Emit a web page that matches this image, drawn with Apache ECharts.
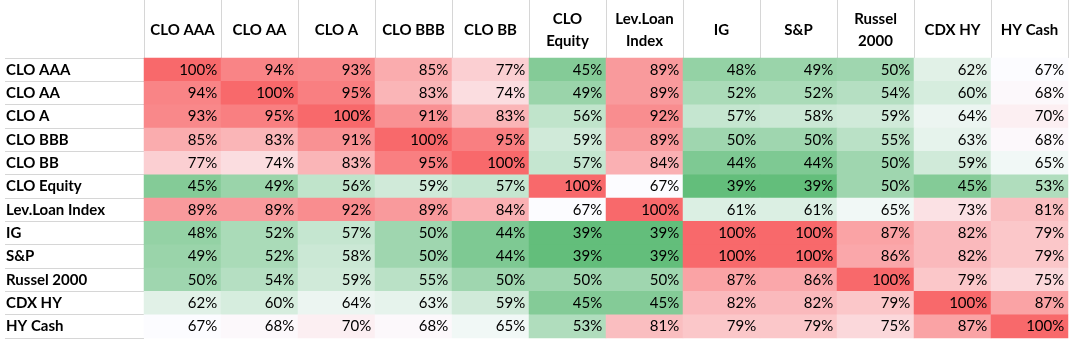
<!DOCTYPE html>
<html>
<head>
<meta charset="utf-8">
<script src="https://cdn.jsdelivr.net/npm/echarts@6/dist/echarts.min.js"></script>
<style>
html,body{margin:0;padding:0;background:#fff;}
#chart{width:1072px;height:339px;}
</style>
</head>
<body>
<div id="chart"></div>
<script>
const columns = ['CLO AAA','CLO AA','CLO A','CLO BBB','CLO BB','CLO\nEquity','Lev.Loan\nIndex','IG','S&P','Russel\n2000','CDX HY','HY Cash'];
const rows = ['CLO AAA','CLO AA','CLO A','CLO BBB','CLO BB','CLO Equity','Lev.Loan Index','IG','S&P','Russel 2000','CDX HY','HY Cash'];
const rowCLOAAA   = [100,94,93,85,77,45,89,48,49,50,62,67];
const rowCLOAA    = [94,100,95,83,74,49,89,52,52,54,60,68];
const rowCLOA     = [93,95,100,91,83,56,92,57,58,59,64,70];
const rowCLOBBB   = [85,83,91,100,95,59,89,50,50,55,63,68];
const rowCLOBB    = [77,74,83,95,100,57,84,44,44,50,59,65];
const rowCLOEq    = [45,49,56,59,57,100,67,39,39,50,45,53];
const rowLevLoan  = [89,89,92,89,84,67,100,61,61,65,73,81];
const rowIG       = [48,52,57,50,44,39,39,100,100,87,82,79];
const rowSP       = [49,52,58,50,44,39,39,100,100,86,82,79];
const rowRussel   = [50,54,59,55,50,50,50,87,86,100,79,75];
const rowCDXHY    = [62,60,64,63,59,45,45,82,82,79,100,87];
const rowHYCash   = [67,68,70,68,65,53,81,79,79,75,87,100];
const matrix = [rowCLOAAA,rowCLOAA,rowCLOA,rowCLOBBB,rowCLOBB,rowCLOEq,rowLevLoan,rowIG,rowSP,rowRussel,rowCDXHY,rowHYCash];

const data = [];
matrix.forEach((r, yi) => r.forEach((v, xi) => data.push([xi, yi, v])));

const LOW = [99,190,123], MID = [252,252,255], HIGH = [248,105,107];
const vMin = 39, vMid = 67, vMax = 100;
function lerp(a,b,t){return a.map((c,i)=>Math.round(c+(b[i]-c)*t));}
function colorFor(v){
  let c;
  if (v <= vMid) c = lerp(LOW, MID, Math.max(0,(v - vMin)/(vMid - vMin)));
  else c = lerp(MID, HIGH, Math.min(1,(v - vMid)/(vMax - vMid)));
  return 'rgb(' + c.join(',') + ')';
}

const FONT = 'Lato';
const chart = echarts.init(document.getElementById('chart'), null, {renderer:'canvas'});
chart.setOption({
  animation: false,
  backgroundColor: '#ffffff',
  grid: {left: 144, right: 4, top: 58, bottom: 1},
  xAxis: {
    type: 'category',
    position: 'top',
    data: columns,
    axisLine: {show: false},
    axisTick: {show: true, length: 58, lineStyle: {color: '#d6d6d6', width: 1}},
    axisLabel: {
      interval: 0, margin: 28, verticalAlign: 'middle',
      fontFamily: FONT, fontWeight: 'bold', fontSize: 15, color: '#000', lineHeight: 22
    },
    splitLine: {show: false}
  },
  yAxis: {
    type: 'category',
    inverse: true,
    data: rows,
    axisLine: {show: false},
    axisTick: {show: true, length: 139, lineStyle: {color: '#d6d6d6', width: 1}},
    axisLabel: {
      interval: 0, margin: 138, align: 'left',
      fontFamily: FONT, fontWeight: 'bold', fontSize: 15, color: '#000'
    },
    splitLine: {show: false}
  },
  series: [{
    type: 'heatmap',
    data: data,
    itemStyle: {color: p => colorFor(p.value[2])},
    label: {
      show: true, position: 'insideRight', distance: 4,
      formatter: p => p.value[2] + '%',
      fontFamily: FONT, fontSize: 15, color: '#000'
    },
    emphasis: {disabled: true}
  }]
});
</script>
</body>
</html>
